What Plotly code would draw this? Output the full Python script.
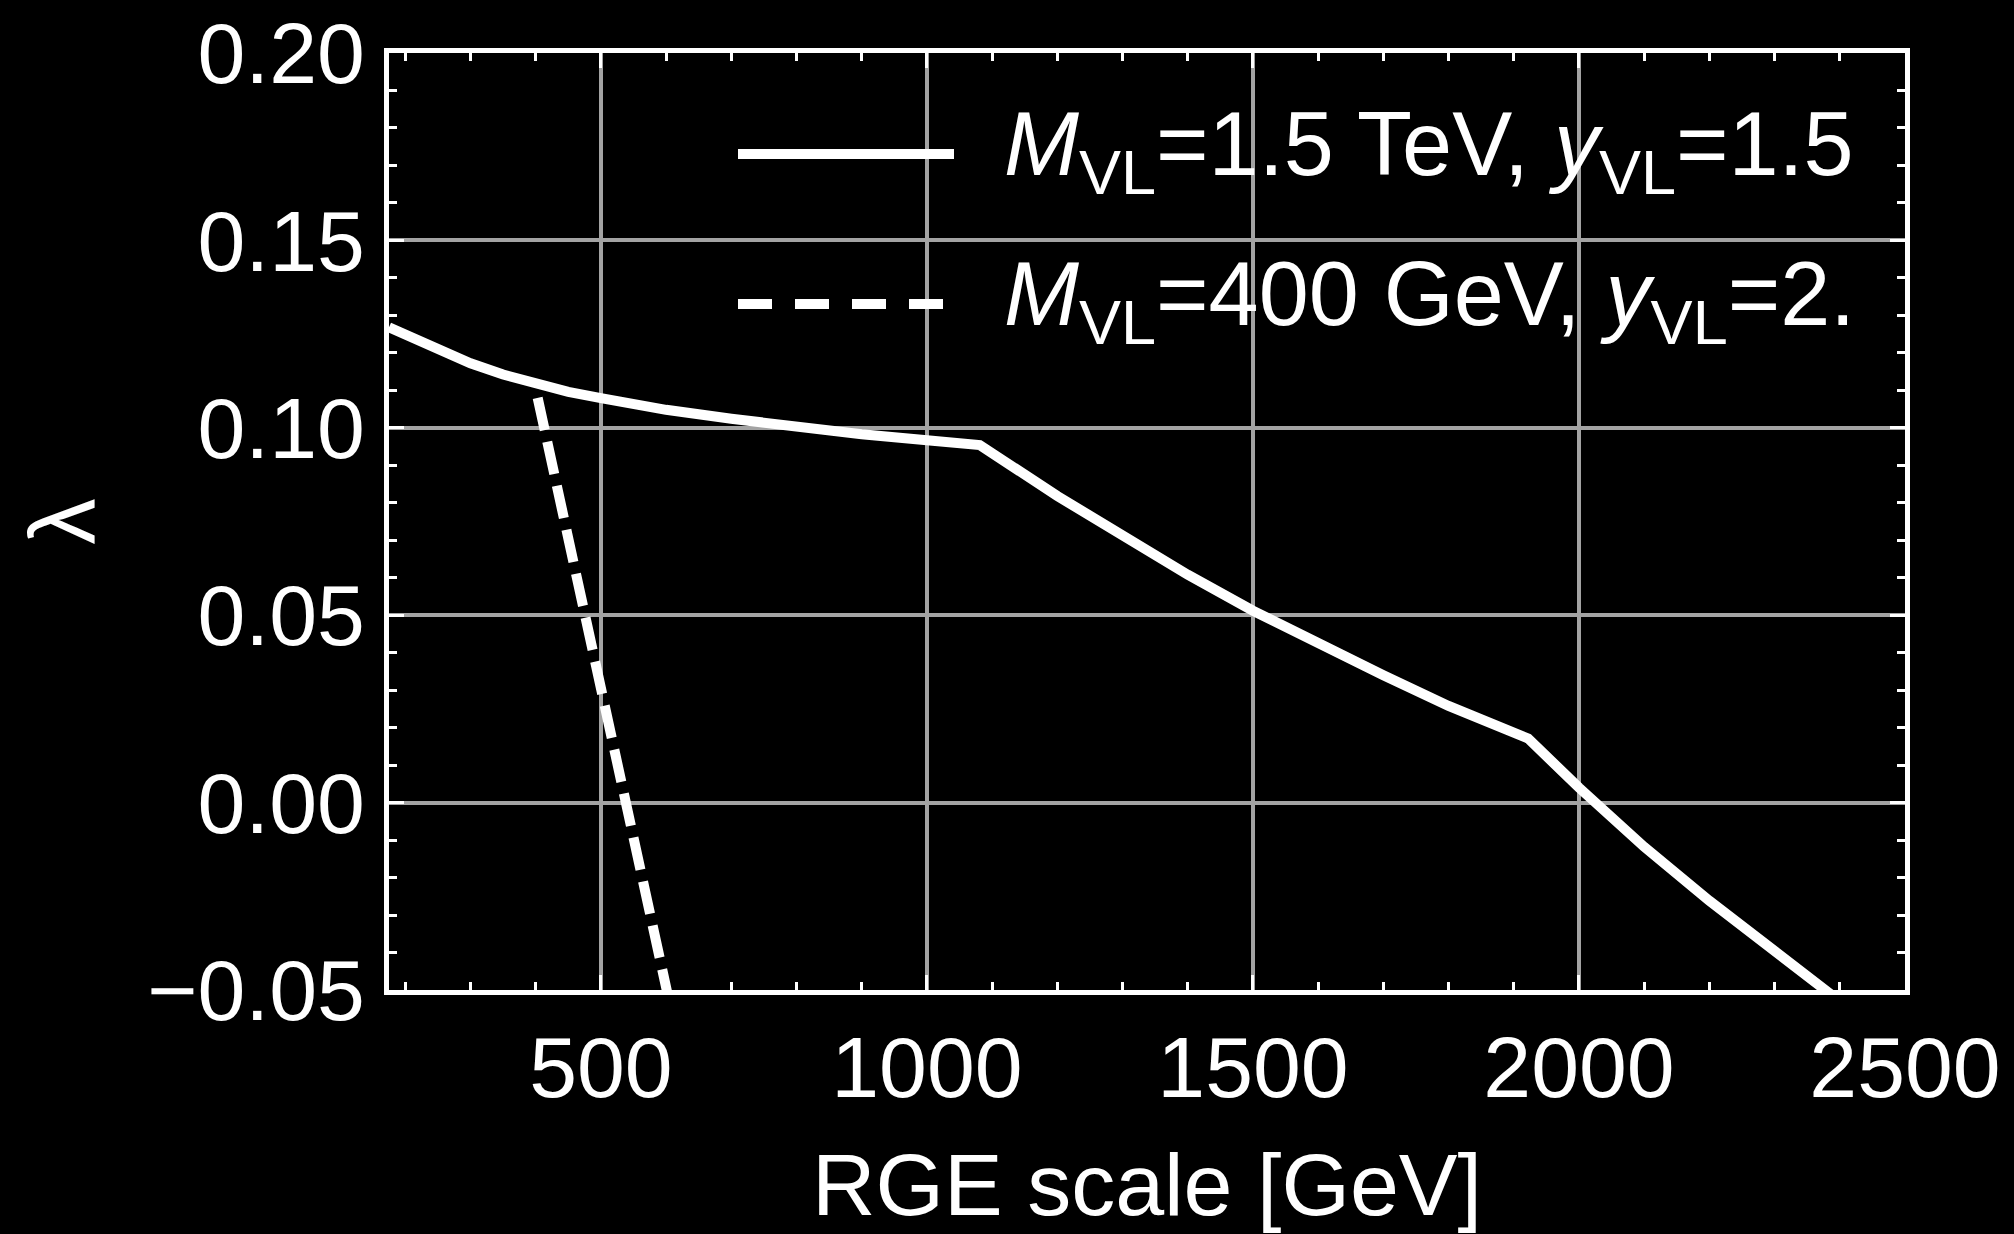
import plotly.graph_objects as go

# ---- data ----
scale_solid = [175, 200, 250, 300, 350, 400, 450, 500, 600, 700, 800, 900, 1000, 1081,
               1200, 1300, 1400, 1500, 1600, 1700, 1800, 1922,
               2000, 2100, 2200, 2300, 2400]
lambda_solid = [0.1268, 0.1248, 0.1207, 0.1172, 0.1142, 0.1117, 0.1096, 0.1079, 0.1048, 0.1024,
                0.1002, 0.0983, 0.0967, 0.0954,
                0.0818, 0.0710, 0.0608, 0.0512, 0.0424, 0.0340, 0.0258, 0.0171,
                0.0040, -0.0118, -0.0262, -0.0398, -0.0530]

scale_dashed = [403, 476, 540, 603]
lambda_dashed = [0.108, 0.050, 0.000, -0.0517]

legend_labels = ["<i>M</i><sub>VL</sub>=1.5 TeV, <i>y</i><sub>VL</sub>=1.5",
                 "<i>M</i><sub>VL</sub>=400 GeV, <i>y</i><sub>VL</sub>=2."]

x_title = "RGE scale [GeV]"
y_title = "λ"
x_range = [175, 2500]
y_range = [-0.05, 0.20]

FONT = "Liberation Sans, Arial, Helvetica, sans-serif"
FS = 86
GRID = "#a3a3a3"

# plot-area geometry (px)
W, H = 2014, 1234
L, R, T, B = 389, 1905, 53, 990


def px_to_paper(px, py):
    return (px - L) / (R - L), (B - py) / (B - T)


fig = go.Figure()
fig.add_trace(go.Scatter(x=scale_solid, y=lambda_solid, mode="lines",
                         line=dict(color="white", width=10), name="solid",
                         showlegend=False))
fig.add_trace(go.Scatter(x=scale_dashed, y=lambda_dashed, mode="lines",
                         line=dict(color="white", width=10, dash="33px,12px"),
                         name="dashed", showlegend=False))

axis_common = dict(
    showgrid=True, gridcolor=GRID, gridwidth=3.5,
    zeroline=False, automargin=False,
    showline=True, linecolor="white", linewidth=5, mirror="ticks",
    ticks="inside", ticklen=15, tickwidth=3, tickcolor="white",
    tickfont=dict(family=FONT, size=FS, color="white"),
)

fig.update_xaxes(range=x_range, tick0=0, dtick=500, tickformat="d",
                 minor=dict(tick0=0, dtick=100, ticks="inside", ticklen=8,
                            tickwidth=3, tickcolor="white", showgrid=False),
                 title=dict(text=x_title, font=dict(family=FONT, size=88, color="white"),
                            standoff=57),
                 ticklabelstandoff=-1,
                 **axis_common)
fig.update_yaxes(range=y_range, tick0=0, dtick=0.05, tickformat=".2f",
                 minor=dict(tick0=0, dtick=0.01, ticks="inside", ticklen=8,
                            tickwidth=3, tickcolor="white", showgrid=False),
                 title=dict(text=y_title, font=dict(family=FONT, size=92, color="white"),
                            standoff=23),
                 ticklabelstandoff=2,
                 **axis_common)

# ---- manual legend ----
legend_rows = [(154, "solid", 738, 954), (304, "34px,23px", 738, 945)]
for (py, dash, x0, x1), label in zip(legend_rows, legend_labels):
    p0x, p0y = px_to_paper(x0, py)
    p1x, _ = px_to_paper(x1, py)
    fig.add_shape(type="line", xref="paper", yref="paper",
                  x0=p0x, x1=p1x, y0=p0y, y1=p0y,
                  line=dict(color="white", width=10, dash=dash))
    tx, ty = px_to_paper(1002, py - 4)
    fig.add_annotation(xref="paper", yref="paper", x=tx, y=ty,
                       xanchor="left", yanchor="middle", showarrow=False,
                       text=label, font=dict(family=FONT, size=90, color="white"))

fig.update_layout(
    width=W, height=H, autosize=False,
    paper_bgcolor="black", plot_bgcolor="black",
    margin=dict(l=L, r=W - R, t=T, b=H - B, pad=0, autoexpand=False),
    showlegend=False,
)

fig.write_html(
    "out.html",
    config={"displayModeBar": False},
    post_script=("document.body.style.margin='0';"
                 "document.body.style.background='black';"
                 "document.body.style.overflow='hidden';"
                 "document.documentElement.style.background='black';"),
)
